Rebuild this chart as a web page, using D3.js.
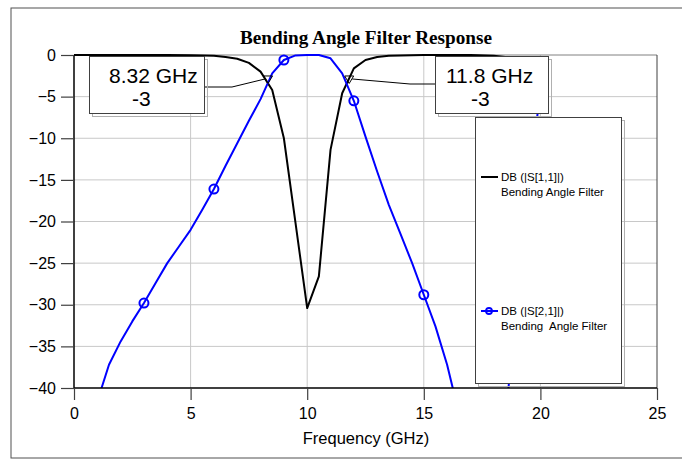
<!DOCTYPE html>
<html>
<head>
<meta charset="utf-8">
<script src="https://cdn.jsdelivr.net/npm/d3@7/dist/d3.min.js"></script>
<style>
  html, body { margin: 0; padding: 0; background: #fff; }
  svg { display: block; }
  text { font-family: "Liberation Sans", Arial, sans-serif; }
</style>
</head>
<body>
<svg id="chart" width="682" height="461"></svg>
<script>
// ---- data ----
const titleText = "Bending Angle Filter Response";
const xLabel = "Frequency (GHz)";
const xTicks = [0, 5, 10, 15, 20, 25];
const yTicks = [0, -5, -10, -15, -20, -25, -30, -35, -40];

const s11Freq = [0, 1, 2, 3, 4, 5, 5.5, 6, 6.5, 7, 7.5, 8, 8.5, 9, 9.5, 10, 10.5, 11, 11.5, 12, 12.5, 13, 13.5, 14, 15, 16, 17, 18, 19, 20];
const s11Db   = [0, 0, 0, 0, 0, -0.02, -0.05, -0.1, -0.25, -0.45, -0.95, -2.0, -4.2, -10.0, -20.2, -30.4, -26.6, -11.4, -4.6, -1.6, -0.6, -0.25, -0.1, -0.05, 0, 0, 0, -0.1, -0.4, -1.0];

const s21Freq = [1.0, 1.5, 2.0, 2.5, 3.0, 3.5, 4.0, 4.5, 5.0, 5.5, 6.0, 6.5, 7.0, 7.5, 8.0, 8.5, 9.0, 9.5, 10.0, 10.5, 11.0, 11.5, 12.0, 12.5, 13.0, 13.5, 14.0, 14.5, 15.0, 15.5, 16.0, 16.5, 17.0, 17.5, 18.0, 18.5, 19.0, 19.5, 20.0];
const s21Db   = [-41.6, -37.2, -34.4, -32.0, -29.8, -27.4, -25.0, -23.0, -21.0, -18.6, -16.1, -13.3, -10.6, -7.9, -5.3, -2.2, -0.6, -0.05, 0, 0, -0.4, -2.2, -5.5, -9.8, -14.0, -18.0, -21.5, -25.0, -28.8, -32.6, -37.2, -43.0, -48.0, -51.0, -50.0, -43.5, -30.0, -16.5, -4.0];
const s21MarkerFreq = [3, 6, 9, 12, 15];

const markerFreq = [8.32, 11.8];
const markerDb = [-3, -3];
const markerLabels = ["8.32 GHz", "11.8 GHz"];

const legendNames = ["DB (|S[1,1]|)", "DB (|S[2,1]|)"];
const legendSub = ["Bending Angle Filter", "Bending\u00a0 Angle Filter"];
const seriesColors = ["#000000", "#0000ff"];

// ---- layout ----
const svg = d3.select("#chart");
const L = 74, R = 657, T = 55, B = 388;
const x = d3.scaleLinear().domain([0, 25]).range([L, R]);
const y = d3.scaleLinear().domain([-40, 0]).range([B, T]);

// outer frame
svg.append("rect").attr("x", 11).attr("y", 8).attr("width", 690).attr("height", 450)
  .attr("fill", "#fff").attr("stroke", "#505050").attr("stroke-width", 1);

// title
svg.append("text").attr("x", 366).attr("y", 44).attr("text-anchor", "middle")
  .attr("textLength", 252).attr("lengthAdjust", "spacingAndGlyphs")
  .style("font-family", "'Liberation Serif', 'Times New Roman', serif")
  .style("font-weight", "bold").style("font-size", "18px").text(titleText);

// grid
const grid = svg.append("g");
grid.selectAll("line.gx").data(xTicks.filter(d => d > 0 && d < 25)).join("line")
  .attr("x1", d => x(d)).attr("x2", d => x(d)).attr("y1", T).attr("y2", B)
  .attr("stroke", "#c8c8c8").attr("stroke-width", 1);
grid.selectAll("line.gy").data(yTicks.filter(d => d < 0 && d > -40)).join("line")
  .attr("x1", L).attr("x2", R).attr("y1", d => y(d)).attr("y2", d => y(d))
  .attr("stroke", "#c8c8c8").attr("stroke-width", 1);
// plot frame top/right
svg.append("line").attr("x1", L).attr("x2", R).attr("y1", T).attr("y2", T).attr("stroke", "#808080");
svg.append("line").attr("x1", R).attr("x2", R).attr("y1", T).attr("y2", B).attr("stroke", "#404040");

// clip
svg.append("clipPath").attr("id", "clip").append("rect")
  .attr("x", L).attr("y", T - 3).attr("width", R - L).attr("height", B - T + 3);

const line = d3.line().x(d => x(d[0])).y(d => y(d[1]));
const s11 = s11Freq.map((f, i) => [f, s11Db[i]]);
const s21 = s21Freq.map((f, i) => [f, s21Db[i]]);

const curves = svg.append("g").attr("clip-path", "url(#clip)");
curves.append("path").datum(s11).attr("d", line).attr("fill", "none")
  .attr("stroke", seriesColors[0]).attr("stroke-width", 2).attr("stroke-linejoin", "round");
curves.append("path").datum(s21).attr("d", line).attr("fill", "none")
  .attr("stroke", seriesColors[1]).attr("stroke-width", 2).attr("stroke-linejoin", "round");
curves.selectAll("circle").data(s21.filter(d => s21MarkerFreq.includes(d[0]))).join("circle")
  .attr("cx", d => x(d[0])).attr("cy", d => y(d[1])).attr("r", 4.5)
  .attr("fill", "none").attr("stroke", seriesColors[1]).attr("stroke-width", 2);

// axes
const yAxis = svg.append("g").attr("transform", `translate(${L},0)`)
  .call(d3.axisLeft(y).tickValues(yTicks).tickSize(13).tickPadding(5).tickFormat(d3.format("d")));
const xAxis = svg.append("g").attr("transform", `translate(0,${B})`)
  .call(d3.axisBottom(x).tickValues(xTicks).tickSize(12).tickPadding(8).tickFormat(d3.format("d")));
[yAxis, xAxis].forEach(a => {
  a.select(".domain").attr("stroke", "#000").attr("stroke-width", 1.5);
  a.selectAll(".tick line").attr("stroke", "#404040").attr("stroke-width", 1.2);
  a.selectAll(".tick text").style("font-size", "16px").attr("fill", "#000")
    .style("font-family", "'Liberation Sans', Arial, sans-serif");
});
yAxis.select(".domain").attr("d", `M0,${T}V${B}`);
xAxis.select(".domain").attr("d", `M${L},0H${R}`);

svg.append("text").attr("x", 366).attr("y", 444).attr("text-anchor", "middle")
  .style("font-size", "16.5px").text(xLabel);

// boxes helper
function box(x0, y0, w, h) {
  svg.append("rect").attr("x", x0 + 3).attr("y", y0 + 3).attr("width", w).attr("height", h)
    .attr("fill", "none").attr("stroke", "#b0b0b0").attr("stroke-width", 1);
  svg.append("rect").attr("x", x0).attr("y", y0).attr("width", w).attr("height", h)
    .attr("fill", "#fff").attr("stroke", "#404040").attr("stroke-width", 1);
}

// legend
box(475.5, 117.5, 146, 266);
const legY = [177, 311];
legendNames.forEach((name, i) => {
  svg.append("line").attr("x1", 481).attr("x2", 498).attr("y1", legY[i]).attr("y2", legY[i])
    .attr("stroke", seriesColors[i]).attr("stroke-width", 2);
  if (i === 1) svg.append("circle").attr("cx", 489).attr("cy", legY[i]).attr("r", 3)
    .attr("fill", "none").attr("stroke", seriesColors[i]).attr("stroke-width", 1.8);
  svg.append("text").attr("x", 501).attr("y", legY[i] + 4).style("font-size", "11.5px").text(name);
  svg.append("text").attr("x", 501).attr("y", legY[i] + 19).style("font-size", "11.5px").text(legendSub[i]);
});

// marker boxes
const mBox = [
  {x0: 89.5, y0: 56.5, w: 115, h: 57, tx: 109, lx: 132, lead: [[204.5, 87], [232, 87]]},
  {x0: 435.5, y0: 56.5, w: 113, h: 57, tx: 446, lx: 471, lead: [[435.5, 84], [410, 84]]}
];
markerFreq.forEach((f, i) => {
  const mb = mBox[i];
  const px = x(f), py = y(markerDb[i]);
  const pts = mb.lead.concat([[px + (i === 0 ? -3 : 3), py - 1]]);
  svg.append("path").attr("d", d3.line()(pts)).attr("fill", "none").attr("stroke", "#000").attr("stroke-width", 1);
  svg.append("path").attr("d", `M${px - 4.5},${py - 4}L${px + 4.5},${py - 4}L${px},${py + 3.5}Z`)
    .attr("fill", "none").attr("stroke", "#000").attr("stroke-width", 1);
  box(mb.x0, mb.y0, mb.w, mb.h);
  svg.append("text").attr("x", mb.tx).attr("y", 83).style("font-size", "21px").text(markerLabels[i]);
  svg.append("text").attr("x", mb.lx).attr("y", 106).style("font-size", "21px").text(markerDb[i]);
});
</script>
</body>
</html>
